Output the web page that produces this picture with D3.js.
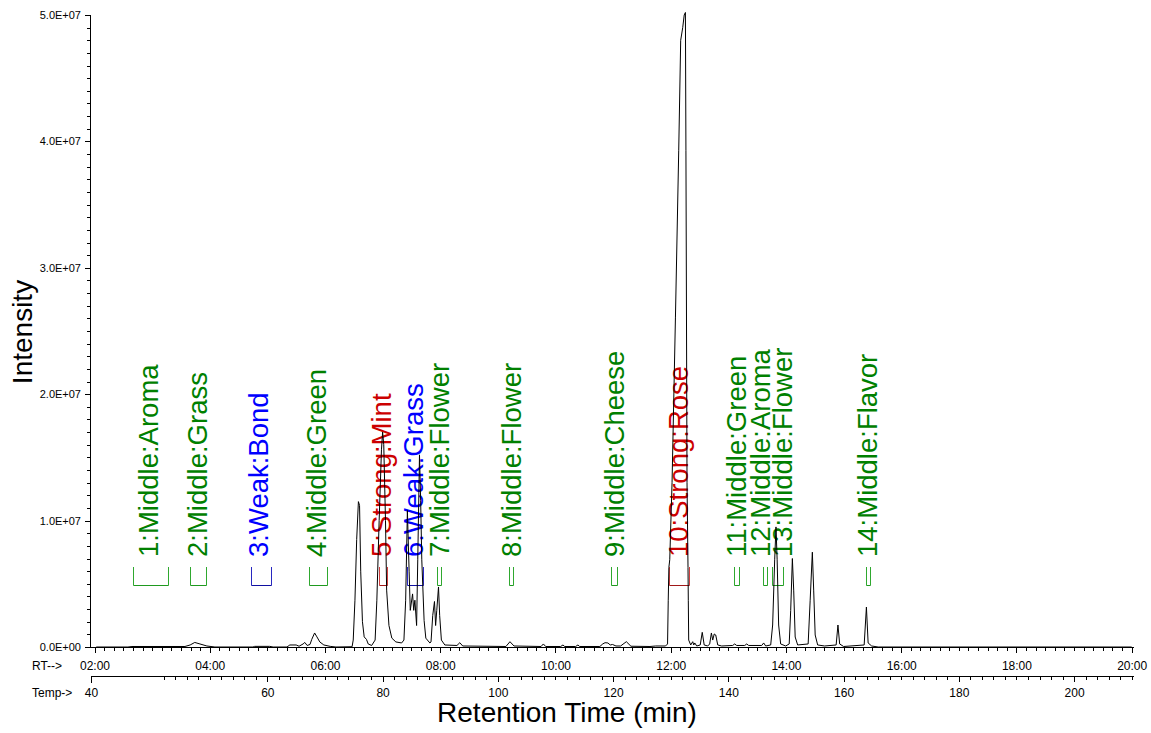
<!DOCTYPE html>
<html>
<head>
<meta charset="utf-8">
<script src="https://cdn.jsdelivr.net/npm/d3@7"></script>
<style>
  body { margin: 0; background: #fff; }
  svg { display: block; }
  text { font-family: "Liberation Sans", Arial, sans-serif; }
</style>
</head>
<body>
<svg id="chart" width="1151" height="733"></svg>
<script>
// Total ion chromatogram: [retention time (min), intensity (counts)]
const trace = [
  [2.03, 0], [2.58, 0], [2.65, 4e4], [3.57, 4e4], [3.66, 1.6e5], [3.74, 3.6e5],
  [3.83, 2.4e5], [3.95, 8e4], [4.09, 0], [4.75, 0], [4.78, 5e4], [5.04, 5e4],
  [5.10, 0], [5.34, 0], [5.39, 1.6e5], [5.50, 1.6e5], [5.55, 6e4], [5.62, 2.4e5],
  [5.65, 3.6e5], [5.69, 1.2e5], [5.74, 2.0e5], [5.77, 6.0e5], [5.82, 1.11e6],
  [5.86, 8.0e5], [5.91, 4.0e5], [5.98, 1.6e5], [6.09, 5e4], [6.19, 0], [6.47, 2e4],
  [6.49, 5.5e5], [6.52, 3.7e6], [6.55, 8.5e6], [6.58, 1.15e7], [6.60, 1.12e7],
  [6.62, 6.0e6], [6.65, 2.0e6], [6.68, 8.0e5], [6.72, 6.0e5], [6.75, 2.4e5],
  [6.81, 1.2e5], [6.87, 5.5e5], [6.90, 3.7e6], [6.94, 1.0e7], [6.98, 1.56e7],
  [7.00, 1.70e7], [7.02, 1.60e7], [7.05, 1.0e7], [7.07, 4.5e6], [7.11, 1.7e6],
  [7.16, 7.0e5], [7.23, 4.0e5], [7.33, 3.2e5], [7.37, 5.5e5], [7.40, 3.7e6],
  [7.43, 1.08e7], [7.46, 6.0e6], [7.48, 2.9e6], [7.52, 4.2e6], [7.54, 2.9e6],
  [7.56, 3.7e6], [7.59, 1.7e6], [7.61, 6.9e6], [7.64, 1.52e7], [7.66, 1.16e7],
  [7.68, 6.9e6], [7.72, 2.1e6], [7.75, 7.0e5], [7.82, 3.2e5], [7.84, 4.0e5],
  [7.87, 2.5e6], [7.90, 3.6e6], [7.92, 1.7e6], [7.94, 2.9e6], [7.97, 4.75e6],
  [7.99, 2.5e6], [8.02, 5.5e5], [8.08, 1.6e5], [8.29, 1.2e5], [8.34, 3.4e5],
  [8.39, 8e4], [9.14, 4e4], [9.21, 4.2e5], [9.28, 8e4], [9.75, 4e4], [9.79, 2.4e5],
  [9.83, 4e4], [10.09, 4e4], [10.13, 1.6e5], [10.16, 4e4], [10.35, 4e4],
  [10.39, 1.6e5], [10.42, 4e4], [10.77, 4e4], [10.82, 2.4e5], [10.86, 3.4e5],
  [10.91, 3.2e5], [10.95, 1.6e5], [10.99, 2.0e5], [11.05, 8e4], [11.13, 8e4],
  [11.23, 4.2e5], [11.31, 6e4], [11.64, 4e4], [11.74, 8e4], [11.91, 8e4],
  [11.945, 2.4e5], [11.957, 3.7e6], [11.968, 6.3e6], [11.983, 6.9e6],
  [12.023, 1.30e7], [12.082, 2.61e7], [12.139, 3.93e7], [12.173, 4.80e7],
  [12.208, 4.90e7], [12.234, 5.00e7], [12.255, 5.02e7], [12.264, 3.93e7],
  [12.283, 1.30e7], [12.300, 6.3e6], [12.305, 3.7e6], [12.312, 5.5e5],
  [12.347, 1.6e5], [12.382, 4.2e5], [12.40, 1.6e5], [12.417, 3.2e5], [12.451, 8e4],
  [12.512, 1.6e5], [12.547, 1.16e6], [12.581, 1.6e5], [12.642, 8e4], [12.676, 2.4e5],
  [12.706, 1.11e6], [12.729, 5.5e5], [12.755, 1.03e6], [12.781, 9.5e5],
  [12.816, 1.6e5], [12.885, 8e4], [13.075, 1.2e5], [13.110, 2.4e5], [13.145, 1.2e5],
  [13.284, 1.2e5], [13.319, 2.4e5], [13.353, 1.2e5], [13.579, 1.2e5], [13.613, 3.2e5],
  [13.648, 8e4], [13.735, 1.6e5], [13.769, 1.74e6], [13.804, 6.9e6], [13.827, 9.5e6],
  [13.847, 6.9e6], [13.873, 1.74e6], [13.908, 2.4e5], [13.995, 8e4], [14.056, 2.4e5],
  [14.082, 2.9e6], [14.111, 7.0e6], [14.134, 4.5e6], [14.160, 7.9e5], [14.203, 1.6e5],
  [14.385, 2.4e5], [14.420, 3.7e6], [14.458, 7.5e6], [14.481, 4.5e6], [14.507, 9.5e5],
  [14.550, 1.6e5], [14.671, 8e4], [14.871, 1.6e5], [14.902, 1.74e6], [14.932, 2.4e5],
  [15.0, 4e4], [15.357, 1.6e5], [15.396, 3.16e6], [15.426, 3.2e5], [15.487, 8e4],
  [15.6, 0], [20.0, 0]
];

// Odour-active compound annotations (number:strength:descriptor)
const peakNames = [
  "1:Middle:Aroma", "2:Middle:Grass", "3:Weak:Bond", "4:Middle:Green",
  "5:Strong:Mint", "6:Weak:Grass", "7:Middle:Flower", "8:Middle:Flower",
  "9:Middle:Cheese", "10:Strong:Rose", "11:Middle:Green", "12:Middle:Aroma",
  "13:Middle:Flower", "14:Middle:Flavor"
];
const labelRT     = [2.937, 3.778, 4.845, 5.842, 6.978, 7.524, 7.985, 9.225, 11.011, 12.122, 13.136, 13.552, 13.925, 15.408];
const windowStart = [2.673, 3.657, 4.709, 5.721, 6.935, 7.416, 7.936, 9.195, 10.971, 11.971, 13.098, 13.601, 13.764, 15.395];
const windowEnd   = [3.280, 3.934, 5.056, 6.028, 7.079, 7.693, 8.010, 9.264, 11.068, 12.312, 13.185, 13.677, 13.948, 15.453];

// Axis ticks
const yTicks = [0, 1e7, 2e7, 3e7, 4e7, 5e7];
const yTickLabels = ["0.0E+00", "1.0E+07", "2.0E+07", "3.0E+07", "4.0E+07", "5.0E+07"];
const rtTicks = [2, 4, 6, 8, 10, 12, 14, 16, 18, 20];
const rtTickLabels = ["02:00", "04:00", "06:00", "08:00", "10:00", "12:00", "14:00", "16:00", "18:00", "20:00"];
const tempTicks = [60, 80, 100, 120, 140, 160, 180, 200];
const tempTickLabels = ["60", "80", "100", "120", "140", "160", "180", "200"];
// Oven program: 40 °C held to 3 min, then 10 °C/min to 210 °C at 20 min
const tempProgramRT = [3, 20];
const tempProgramC = [40, 210];

const strengthStyle = {
  Strong: { text: "#cc0000", side: "#d04040", base: "#a01818" },
  Middle: { text: "#008000", side: "#2fa82f", base: "#1f991f" },
  Weak:   { text: "#0000ff", side: "#2828c0", base: "#1010a0" }
};

const svg = d3.select("#chart");
const x = d3.scaleLinear().domain([2, 20]).range([94.5, 1131.7]);
const y = d3.scaleLinear().domain([0, 5e7]).range([647, 15]);
const tScale = d3.scaleLinear().domain(tempProgramC).range(tempProgramRT.map(x));
const axisLeftX = 90;
const axisRight = 1134;
const tempAxisY = 676;

// Y axis
const gy = svg.append("g").attr("transform", `translate(${axisLeftX},0)`);
gy.call(d3.axisLeft(y).tickValues(d3.range(0, 5e7 + 1, 1e6)).tickSize(3).tickFormat(""))
  .call(g => g.select(".domain").remove());
gy.append("g").call(d3.axisLeft(y).tickValues(yTicks).tickSize(5).tickSizeOuter(0).tickPadding(4)
    .tickFormat((d, i) => yTickLabels[i]))
  .call(g => g.select(".domain").attr("d", `M0.5,${y(5e7)}V${y(0) + 0.5}`))
  .call(g => g.selectAll("text").attr("font-size", 11).attr("font-family", "Liberation Sans, Arial, sans-serif"));
gy.selectAll("line, path").attr("stroke", "#000").attr("shape-rendering", "crispEdges");

// Retention time axis
const gx = svg.append("g").attr("transform", `translate(0,${y(0)})`);
gx.append("line").attr("x1", axisLeftX).attr("x2", axisRight).attr("y1", 0.5).attr("y2", 0.5)
  .attr("stroke", "#000").attr("shape-rendering", "crispEdges");
gx.append("g").call(d3.axisBottom(x).tickValues(d3.range(2, 20.0001, 1 / 6)).tickSize(4).tickFormat(""))
  .call(g => g.select(".domain").remove());
gx.append("g").call(d3.axisBottom(x).tickValues(rtTicks).tickSize(6).tickPadding(8)
    .tickFormat((d, i) => rtTickLabels[i]))
  .call(g => g.select(".domain").remove())
  .call(g => g.selectAll("text").attr("font-size", 12).attr("font-family", "Liberation Sans, Arial, sans-serif"));
gx.selectAll("line").attr("stroke", "#000").attr("shape-rendering", "crispEdges");

// Oven temperature axis
const gt = svg.append("g").attr("transform", `translate(0,${tempAxisY})`);
gt.append("line").attr("x1", axisLeftX + 1.5).attr("x2", axisRight).attr("y1", 0.5).attr("y2", 0.5)
  .attr("stroke", "#000");
gt.append("line").attr("x1", axisLeftX + 1.5).attr("x2", axisLeftX + 1.5).attr("y1", 0).attr("y2", 7)
  .attr("stroke", "#000");
gt.append("g").call(d3.axisBottom(tScale).tickValues(d3.range(42, 211, 2)).tickSize(4).tickFormat(""))
  .call(g => g.select(".domain").remove());
gt.append("g").call(d3.axisBottom(tScale).tickValues(tempTicks).tickSize(6).tickPadding(6)
    .tickFormat((d, i) => tempTickLabels[i]))
  .call(g => g.select(".domain").remove())
  .call(g => g.selectAll("text").attr("font-size", 12).attr("font-family", "Liberation Sans, Arial, sans-serif"));
gt.append("text").attr("x", axisLeftX + 1.5).attr("y", 12).attr("dy", "0.71em")
  .attr("text-anchor", "middle").attr("font-size", 12).text(tempProgramC[0]);
gt.selectAll("line").attr("stroke", "#000").attr("shape-rendering", "crispEdges");

svg.append("text").attr("x", 32).attr("y", 670).attr("font-size", 12).text("RT-->");
svg.append("text").attr("x", 32).attr("y", 697).attr("font-size", 12).text("Temp->");

// Axis titles
svg.append("text").attr("transform", "translate(32,332) rotate(-90)")
  .attr("text-anchor", "middle").attr("font-size", 28).text("Intensity");
svg.append("text").attr("x", 567).attr("y", 722)
  .attr("text-anchor", "middle").attr("font-size", 28).text("Retention Time (min)");

// Annotations: integration window brackets and rotated labels
const ann = svg.append("g");
peakNames.forEach((name, i) => {
  const st = strengthStyle[name.split(":")[1]];
  const x0 = Math.round(x(windowStart[i])) + 0.5;
  const x1 = Math.round(x(windowEnd[i])) + 0.5;
  ann.append("path")
    .attr("d", `M${x0},567V585.5`).attr("fill", "none").attr("stroke", st.side);
  ann.append("path")
    .attr("d", `M${x1},567V585.5`).attr("fill", "none").attr("stroke", st.side);
  ann.append("path")
    .attr("d", `M${x0},585.5H${x1}`).attr("fill", "none").attr("stroke", st.base);
  ann.append("text")
    .attr("transform", `translate(${x(labelRT[i])},557) rotate(-90)`)
    .attr("dy", "0.36em").attr("font-size", 27.5).attr("fill", st.text).text(name);
});

// Chromatogram trace
svg.append("path").datum(trace)
  .attr("fill", "none").attr("stroke", "#000").attr("stroke-width", 1)
  .attr("stroke-linejoin", "round")
  .attr("d", d3.line().x(d => x(d[0])).y(d => y(d[1])));
</script>
</body>
</html>
